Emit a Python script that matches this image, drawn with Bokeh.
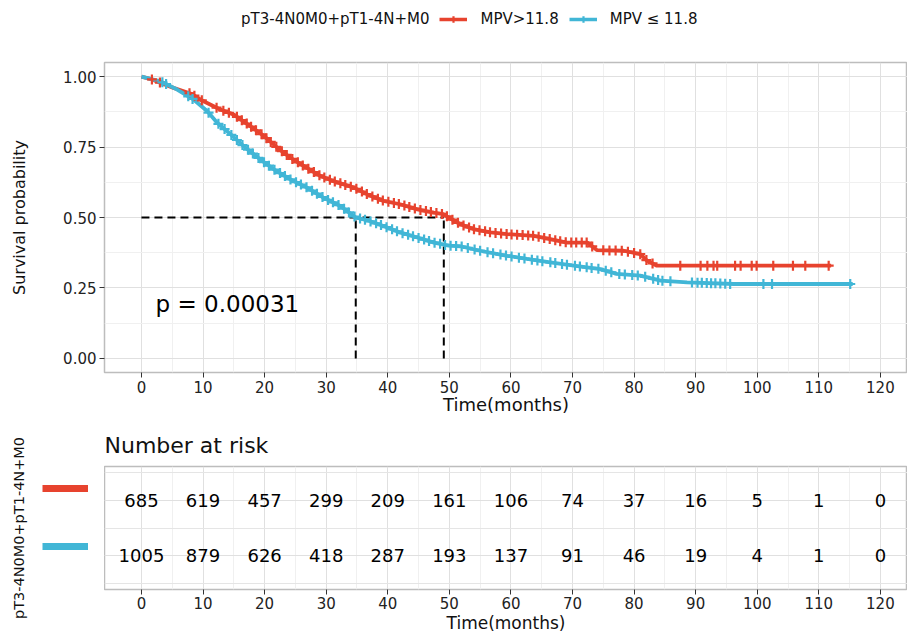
import numpy as np
from bokeh.plotting import figure
from bokeh.layouts import column, row
from bokeh.models import (Range1d, FixedTicker, NumeralTickFormatter, Legend, LegendItem,
                          Grid)
from bokeh.embed import file_html
from bokeh.resources import INLINE
from bokeh.core.properties import value

FONT = "DejaVu Sans"
RED = "#E7432E"
BLUE = "#41B6D6"

# ---------------- data ----------------
group_title = "pT3-4N0M0+pT1-4N+M0"
series_labels = ["MPV>11.8", "MPV \u2264 11.8"]

red_t = [0, 1.7, 5.2, 8.2, 9.6, 12.8, 15.0, 17.7, 19.9, 22.1, 24.2, 26.4, 29.1, 31.2,
         34.5, 36.7, 39.3, 42.0, 44.8, 47.5, 49.0, 49.9, 51.8, 53.9, 56.7, 59.4,
         63.7, 66.4, 69.1, 72.4, 74.0, 78.3, 81.0, 82.1, 83.7, 112.0]
red_s = [1.0, 0.99, 0.96, 0.938, 0.918, 0.883, 0.865, 0.824, 0.789, 0.747, 0.712, 0.682,
         0.647, 0.629, 0.606, 0.582, 0.559, 0.547, 0.529, 0.517, 0.512, 0.50, 0.476,
         0.459, 0.447, 0.441, 0.435, 0.423, 0.411, 0.411, 0.384, 0.382, 0.370, 0.347,
         0.329, 0.329]

blue_t = [0, 3.1, 5.8, 8.5, 10.7, 12.3, 14.5, 16.6, 19.3, 21.5, 24.2, 26.9, 29.6, 32.3,
          34.8, 36.7, 39.3, 42.0, 44.8, 47.5, 49.9, 51.8, 55.0, 59.4, 62.6, 66.4, 70.2,
          74.5, 77.2, 81.0, 84.3, 88.6, 96.2, 115.5]
blue_s = [1.0, 0.983, 0.954, 0.918, 0.877, 0.836, 0.795, 0.753, 0.706, 0.671, 0.635,
          0.606, 0.570, 0.541, 0.50, 0.49, 0.470, 0.447, 0.429, 0.411, 0.400, 0.398,
          0.382, 0.364, 0.353, 0.341, 0.329, 0.317, 0.300, 0.294, 0.276, 0.270, 0.264,
          0.264]

red_cens = [1.7, 3.0, 7.8, 8.6, 9.8, 12.2, 13.3, 14.2, 15.5, 16.3, 17.1, 17.8, 18.6, 19.5,
            20.3, 21.0, 21.9, 22.8, 23.6, 24.5, 25.4, 26.2, 27.1, 28.0, 28.9, 29.7, 30.6,
            31.4, 32.3, 33.1, 34.0, 34.9, 35.8, 36.6, 37.5, 38.4, 39.2, 40.1, 41.0, 41.8,
            42.7, 43.5, 44.4, 45.3, 46.2, 47.0, 47.9, 48.8, 49.6, 50.5, 51.4, 52.3, 53.2,
            54.0, 54.9, 55.8, 56.6, 57.5, 58.4, 59.3, 60.1, 61.0, 61.9, 62.8, 63.6, 64.5,
            65.4, 66.3, 67.2, 68.0, 68.9, 69.8, 70.6, 71.5, 72.3, 73.2, 75.0, 76.0, 77.0,
            78.0, 79.0, 80.0, 81.0, 82.0, 83.0, 87.5, 90.8, 91.9, 92.9, 93.5, 96.4, 97.3,
            99.1, 99.9, 102.6, 105.8, 107.8, 111.6]
blue_cens = [3.4, 4.0, 7.6, 8.3, 10.9, 12.5, 13.5, 14.6, 15.5, 16.4, 17.3, 18.1, 19.0,
             19.9, 20.7, 21.6, 22.5, 23.3, 24.2, 25.1, 25.9, 26.8, 27.7, 28.5, 29.4, 30.3,
             31.1, 32.0, 32.9, 33.7, 34.6, 35.5, 36.3, 37.2, 38.1, 38.9, 39.8, 40.7, 41.5,
             42.4, 43.3, 44.1, 45.0, 45.9, 46.7, 47.6, 48.5, 49.3, 50.2, 51.1, 52.0, 53.0,
             54.1, 55.0, 56.2, 57.1, 58.3, 59.2, 60.1, 61.3, 62.2, 63.4, 64.3, 65.1, 66.4,
             67.2, 68.3, 69.1, 70.4, 71.2, 72.3, 73.1, 74.2, 75.4, 76.3, 77.6, 78.5, 79.7,
             80.6, 81.8, 83.1, 83.9, 84.6, 85.9, 89.4, 90.3, 91.0, 91.8, 92.5, 93.2, 94.0,
             94.8, 95.6, 101.0, 102.4, 115.1]

median_red = 49.1
median_blue = 34.8
p_text = "p = 0.00031"

risk_times = [0, 10, 20, 30, 40, 50, 60, 70, 80, 90, 100, 110, 120]
red_risk = [685, 619, 457, 299, 209, 161, 106, 74, 37, 16, 5, 1, 0]
blue_risk = [1005, 879, 626, 418, 287, 193, 137, 91, 46, 19, 4, 1, 0]

x_ticks = list(range(0, 121, 10))
x_minor = list(range(5, 126, 10))
y_ticks = [0, 0.25, 0.5, 0.75, 1.0]
y_minor = [0.125, 0.375, 0.625, 0.875]

X_RANGE = (-6, 124.4)
OFF = [-5]   # placeholder point outside the visible range (legend-only renderers)


def blank(fig):
    fig.background_fill_color = "white"
    fig.border_fill_color = "white"
    fig.outline_line_color = None
    fig.grid.visible = False


def style_frame(fig):
    fig.background_fill_color = "white"
    fig.border_fill_color = "white"
    fig.outline_line_color = "#BDBDBD"
    fig.outline_line_width = 1.5


def style_axis(ax):
    ax.axis_line_color = None
    ax.major_tick_line_color = "#333333"
    ax.major_tick_out = 5
    ax.major_tick_in = 0
    ax.minor_tick_line_color = None
    ax.major_label_text_font = FONT
    ax.major_label_text_font_size = "15px"
    ax.major_label_text_color = "#222222"
    ax.major_label_standoff = 3
    ax.axis_label_text_font = FONT
    ax.axis_label_text_font_style = "normal"
    ax.axis_label_text_color = "#111111"


def style_grid(g):
    g.grid_line_color = "#E0E0E0"
    g.grid_line_width = 1
    g.minor_grid_line_color = "#F0F0F0"


# ---------------- legend strip (top) ----------------
leg = figure(width=907, height=60, x_range=Range1d(0, 1), y_range=Range1d(0, 1),
             output_backend="svg", toolbar_location=None,
             x_axis_location=None, y_axis_location=None, min_border=0)
blank(leg)
title_dummy = leg.line(x=OFF, y=OFF, line_alpha=0)
leg_red_l = leg.line(x=OFF, y=OFF, line_color=RED, line_width=3.5)
leg_red_c = leg.scatter(x=OFF, y=OFF, marker="cross", size=11, line_width=2.2,
                        line_color=RED)
leg_blue_l = leg.line(x=OFF, y=OFF, line_color=BLUE, line_width=3.5)
leg_blue_c = leg.scatter(x=OFF, y=OFF, marker="cross", size=11, line_width=2.2,
                         line_color=BLUE)
legend = Legend(items=[LegendItem(label=group_title, renderers=[title_dummy]),
                       LegendItem(label=series_labels[0], renderers=[leg_red_l, leg_red_c]),
                       LegendItem(label=series_labels[1], renderers=[leg_blue_l, leg_blue_c])],
                location=(96, 32), orientation="horizontal",
                glyph_width=28, glyph_height=16, label_standoff=13, spacing=10,
                padding=0, margin=0, border_line_color=None, background_fill_alpha=0,
                label_text_font=FONT, label_text_font_size="15px",
                label_text_color="#111111")
leg.add_layout(legend, "center")

# ---------------- main survival plot ----------------
p = figure(width=907, height=360, x_range=Range1d(*X_RANGE), y_range=Range1d(-0.05, 1.05),
           output_backend="svg", toolbar_location=None,
           min_border_left=104, min_border_right=0, min_border_top=2, min_border_bottom=48)
style_frame(p)
p.xaxis.ticker = FixedTicker(ticks=x_ticks, minor_ticks=x_minor)
p.yaxis.ticker = FixedTicker(ticks=y_ticks, minor_ticks=y_minor)
for ax in p.axis:
    style_axis(ax)
style_grid(p.xgrid)
style_grid(p.ygrid)
p.yaxis.formatter = NumeralTickFormatter(format="0.00")
p.xaxis.axis_label = "Time(months)"
p.xaxis.axis_label_text_font_size = "18px"
p.xaxis.axis_label_standoff = -2
p.yaxis.axis_label = "Survival probability"
p.yaxis.axis_label_text_font_size = "16px"
p.yaxis.axis_label_standoff = 31

p.segment(x0=[0, median_blue, median_red], y0=[0.5, 0, 0],
          x1=[median_red, median_blue, median_red], y1=[0.5, 0.5, 0.5],
          line_color="black", line_width=2, line_dash="8 5")

p.line(red_t, red_s, line_color=RED, line_width=3.8)
p.line(blue_t, blue_s, line_color=BLUE, line_width=3.8)

red_cy = np.interp(red_cens, red_t, red_s)
blue_cy = np.interp(blue_cens, blue_t, blue_s)
p.scatter(red_cens, red_cy, marker="cross", size=10, line_width=2.2, line_color=RED)
p.scatter(blue_cens, blue_cy, marker="cross", size=10, line_width=2.2, line_color=BLUE)

p.text(x=[2.3], y=[0.194], text=[p_text], text_font=value(FONT),
       text_font_size="23px", text_align="left", text_baseline="middle",
       text_color="black")

# ---------------- strata keys (left of risk table) ----------------
keys = figure(width=104, height=215, x_range=Range1d(0, 1), y_range=Range1d(0, 1),
              output_backend="svg", toolbar_location=None,
              x_axis_location=None, y_axis_location="left",
              min_border_left=36, min_border_right=0, min_border_top=46,
              min_border_bottom=44)
blank(keys)
keys.yaxis.ticker = FixedTicker(ticks=[])
style_axis(keys.yaxis[0])
keys.yaxis.major_tick_line_color = None
keys.yaxis.major_tick_out = 0
keys.yaxis.major_label_standoff = 0
keys.yaxis.axis_label = group_title
keys.yaxis.axis_label_text_font_size = "14.5px"
keys.yaxis.axis_label_standoff = 10
red_key = keys.line(x=OFF, y=OFF, line_color=RED, line_width=7)
blue_key = keys.line(x=OFF, y=OFF, line_color=BLUE, line_width=7)
key_legend = Legend(items=[LegendItem(label=" ", renderers=[red_key]),
                           LegendItem(label=" ", renderers=[blue_key])],
                    location=(6, 33), orientation="vertical",
                    glyph_width=46, glyph_height=20, label_height=20, label_width=0,
                    label_standoff=0, spacing=38, padding=0, margin=0,
                    border_line_color=None, background_fill_alpha=0,
                    label_text_font=FONT, label_text_font_size="10px")
keys.add_layout(key_legend, "center")

# ---------------- risk table ----------------
r = figure(width=803, height=215, x_range=Range1d(*X_RANGE), y_range=Range1d(0.4, 2.6),
           output_backend="svg", toolbar_location=None, title="Number at risk",
           y_axis_location=None,
           min_border_left=0, min_border_right=0, min_border_top=46, min_border_bottom=44)
style_frame(r)
r.xaxis.ticker = FixedTicker(ticks=x_ticks, minor_ticks=x_minor)
for ax in r.xaxis:
    style_axis(ax)
style_grid(r.xgrid)
r.xaxis.axis_label = "Time(months)"
r.xaxis.axis_label_text_font_size = "17px"
r.xaxis.axis_label_standoff = 1
r.xaxis.major_label_standoff = 2

ygrid = Grid(dimension=1, ticker=FixedTicker(ticks=[1, 2], minor_ticks=[]))
style_grid(ygrid)
r.add_layout(ygrid, "center")

r.title.text_font = FONT
r.title.text_font_size = "22px"
r.title.text_font_style = "normal"
r.title.text_color = "#111111"
r.title.align = "left"
r.title.standoff = 18

r.text(x=risk_times, y=[2] * len(risk_times), text=[str(v) for v in red_risk],
       text_font=value(FONT), text_font_size="18px", text_align="center",
       text_baseline="middle", text_color="black")
r.text(x=risk_times, y=[1] * len(risk_times), text=[str(v) for v in blue_risk],
       text_font=value(FONT), text_font_size="18px", text_align="center",
       text_baseline="middle", text_color="black")

layout = column(leg, p, row(keys, r))
open("out.html", "w").write(file_html(layout, INLINE))
